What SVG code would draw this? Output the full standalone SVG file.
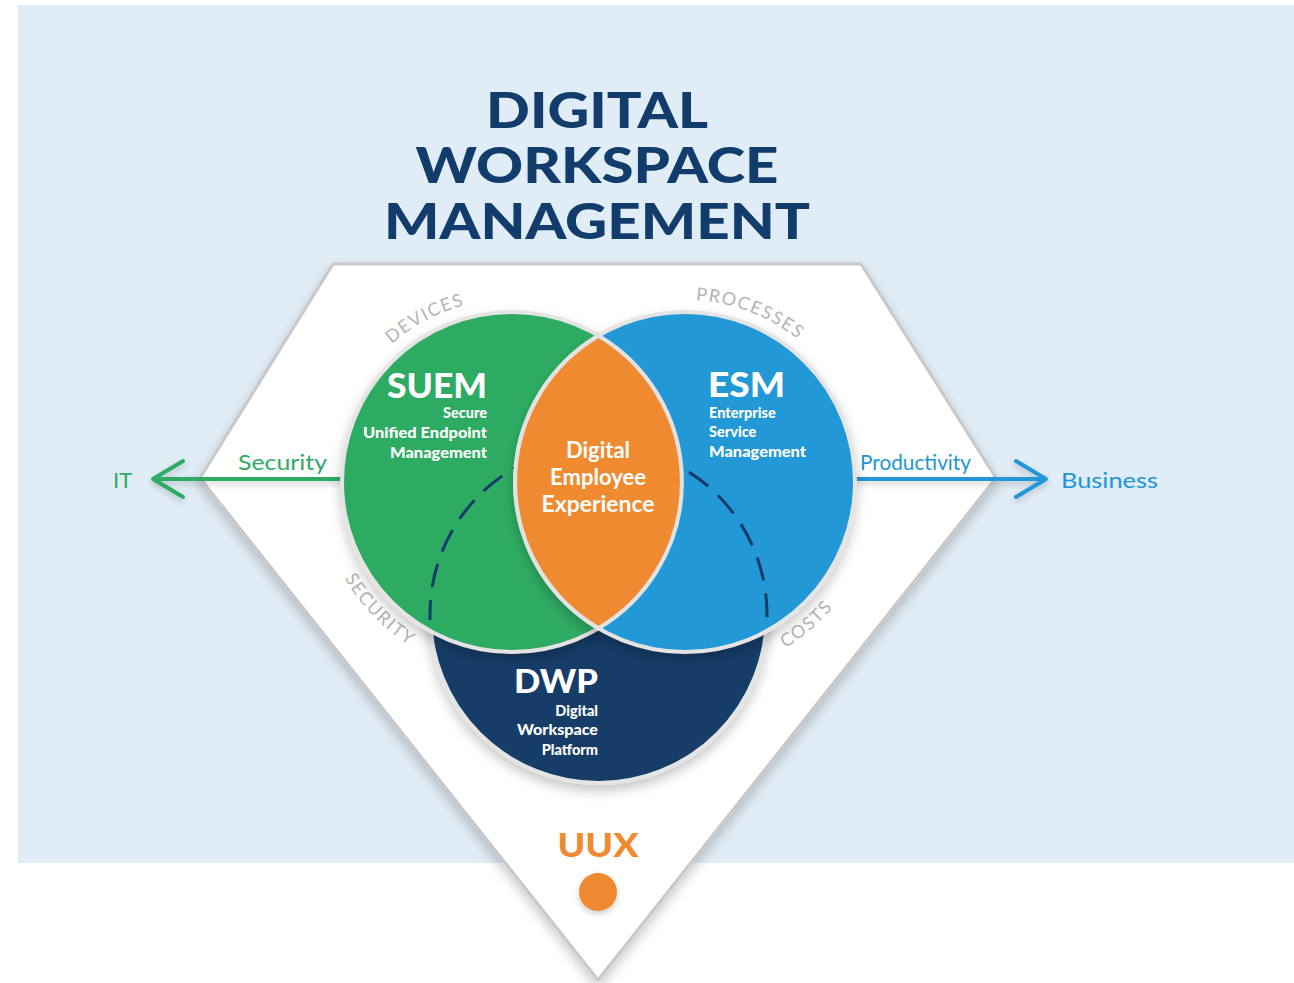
<svg xmlns="http://www.w3.org/2000/svg" width="1294" height="983" viewBox="0 0 1294 983">
<defs>
<style>
.title{font-family:Lato,"Liberation Sans",sans-serif;font-weight:900;font-size:49px;fill:#113c6b;text-anchor:middle}
.arc{font-family:Lato,"Liberation Sans",sans-serif;font-size:18px;fill:#b4b4b4;letter-spacing:1.5px}
.big{font-family:Lato,"Liberation Sans",sans-serif;font-weight:900;fill:#fff}
.sub{font-family:Lato,"Liberation Sans",sans-serif;font-weight:900;font-size:14.5px;fill:#fff}
.dex{font-family:Lato,"Liberation Sans",sans-serif;font-weight:700;font-size:22px;fill:#fff;text-anchor:middle}
.lbl{font-family:Lato,"Liberation Sans",sans-serif;font-size:22px}
.ring{stroke:#e4e4e4;stroke-width:4}
</style>
<filter id="sh" x="-20%" y="-20%" width="140%" height="140%">
<feDropShadow dx="0" dy="6" stdDeviation="6" flood-color="#000" flood-opacity="0.22"/>
</filter>
<filter id="sh2" x="-20%" y="-20%" width="140%" height="160%">
<feDropShadow dx="0" dy="3" stdDeviation="3" flood-color="#000" flood-opacity="0.2"/>
</filter>
<path id="pDev" d="M340,419.4 A183,183 0 0,1 556.3,304.4"/>
<path id="pPro" d="M619.8,312.1 A182,182 0 0,1 847.2,399.4"/>
<path id="pSec" d="M319.1,488.7 A193,193 0 0,0 498.5,674.5"/>
<path id="pCos" d="M681.6,676 A194,194 0 0,0 877.1,509"/>
</defs>
<rect x="0" y="0" width="1294" height="983" fill="#ffffff"/>
<rect x="18" y="5" width="1276" height="858" fill="#e0ecf6"/>

<g id="title">
<text class="title" x="597" y="128" textLength="222" lengthAdjust="spacingAndGlyphs">DIGITAL</text>
<text class="title" x="597" y="183" textLength="363" lengthAdjust="spacingAndGlyphs">WORKSPACE</text>
<text class="title" x="597" y="239" textLength="426" lengthAdjust="spacingAndGlyphs">MANAGEMENT</text>
</g>

<g id="diamond">
<polygon points="333,264 861,264 996,478 598,980 200,478" fill="#ffffff" stroke="#c8c8c8" stroke-width="3" stroke-linejoin="round" filter="url(#sh)"/>
</g>

<g id="connectors">
<g filter="url(#sh2)">
<line x1="345" y1="479" x2="154" y2="479" stroke="#2eaa64" stroke-width="4"/>
<polyline points="183,461 153,479 183,497" fill="none" stroke="#2eaa64" stroke-width="4" stroke-linecap="round" stroke-linejoin="round"/>
<line x1="852" y1="479" x2="1045" y2="479" stroke="#2196d6" stroke-width="4"/>
<polyline points="1016,461 1046,479 1016,497" fill="none" stroke="#2196d6" stroke-width="4" stroke-linecap="round" stroke-linejoin="round"/>
</g>
</g>

<g id="labels-axis">
<text class="lbl" x="238" y="470" fill="#2eaa64" textLength="89" lengthAdjust="spacingAndGlyphs">Security</text>
<text class="lbl" x="113" y="488" fill="#2eaa64">IT</text>
<text class="lbl" x="860" y="470" fill="#2196d6" textLength="111" lengthAdjust="spacingAndGlyphs">Productivity</text>
<text class="lbl" x="1061" y="488" fill="#2196d6" textLength="97" lengthAdjust="spacingAndGlyphs">Business</text>
</g>

<g id="arc-labels">
<text class="arc"><textPath href="#pDev" startOffset="50%" text-anchor="middle">DEVICES</textPath></text>
<text class="arc"><textPath href="#pPro" startOffset="50%" text-anchor="middle">PROCESSES</textPath></text>
<text class="arc"><textPath href="#pSec" startOffset="50%" text-anchor="middle">SECURITY</textPath></text>
<text class="arc"><textPath href="#pCos" startOffset="50%" text-anchor="middle">COSTS</textPath></text>
</g>

<g id="dwp">
<circle cx="598.5" cy="614.5" r="168.5" fill="#133c68" class="ring" filter="url(#sh)"/>
</g>

<g id="suem">
<circle cx="512" cy="482" r="170" fill="#2eab64" class="ring" filter="url(#sh)"/>
</g>

<g id="esm">
<circle cx="685" cy="482" r="170" fill="#2198d6" class="ring" filter="url(#sh)"/>
</g>

<g id="dwp-outline">
<path d="M430.1,620 A168.5,168.5 0 1,1 766.9,620" fill="none" stroke="#133c68" stroke-width="3" stroke-dasharray="24,13" stroke-dashoffset="4"/>
</g>

<g id="dex">
<path d="M598.5,335.7 A170,170 0 0,0 598.5,628.3 A170,170 0 0,0 598.5,335.7 Z" fill="#f08a30" stroke="#e2e2e2" stroke-width="4"/>
<text class="dex" x="598" y="458">Digital</text>
<text class="dex" x="598" y="485">Employee</text>
<text class="dex" x="598" y="512" textLength="113" lengthAdjust="spacingAndGlyphs">Experience</text>
</g>

<g id="suem-text">
<text class="big" x="487" y="398" font-size="35" text-anchor="end" textLength="100" lengthAdjust="spacingAndGlyphs">SUEM</text>
<text class="sub" x="487" y="418" text-anchor="end">Secure</text>
<text class="sub" x="487" y="438" text-anchor="end" textLength="124" lengthAdjust="spacingAndGlyphs">Unified Endpoint</text>
<text class="sub" x="487" y="458" text-anchor="end" textLength="97" lengthAdjust="spacingAndGlyphs">Management</text>
</g>

<g id="esm-text">
<text class="big" x="708" y="397" font-size="35" textLength="77" lengthAdjust="spacingAndGlyphs">ESM</text>
<text class="sub" x="709" y="418">Enterprise</text>
<text class="sub" x="709" y="437">Service</text>
<text class="sub" x="709" y="457" textLength="97" lengthAdjust="spacingAndGlyphs">Management</text>
</g>

<g id="dwp-text">
<text class="big" x="514" y="693" font-size="33" textLength="84" lengthAdjust="spacingAndGlyphs">DWP</text>
<text class="sub" x="598" y="716" text-anchor="end">Digital</text>
<text class="sub" x="598" y="735" text-anchor="end" textLength="81" lengthAdjust="spacingAndGlyphs">Workspace</text>
<text class="sub" x="598" y="755" text-anchor="end">Platform</text>
</g>

<g id="uux">
<text x="598" y="857" font-family="Lato,'Liberation Sans',sans-serif" font-weight="900" font-size="33" fill="#f08a30" text-anchor="middle" textLength="81" lengthAdjust="spacingAndGlyphs">UUX</text>
<circle cx="598" cy="892" r="19" fill="#f08a30" filter="url(#sh2)"/>
</g>
</svg>
